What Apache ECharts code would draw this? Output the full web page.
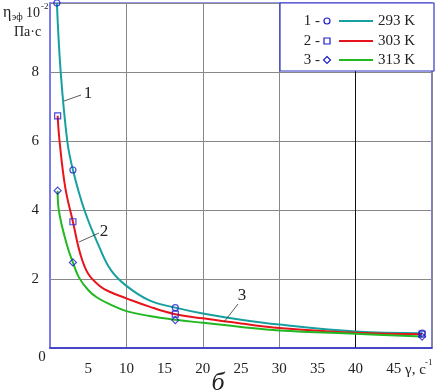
<!DOCTYPE html>
<html>
<head>
<meta charset="utf-8">
<script src="https://cdn.jsdelivr.net/npm/echarts@6/dist/echarts.min.js"></script>
<style>
  html, body { margin: 0; padding: 0; background: #fff; }
  #chart { width: 435px; height: 392px; }
</style>
</head>
<body>
<div id="chart"></div>
<script>
  // values
  var seriesNames = ['293 K', '303 K', '313 K']
  var curveNums = ['1', '2', '3']
  var xLabels = [5, 10, 15, 20, 25, 30, 35, 40, 45]
  var yLabels = [2, 4, 6, 8]

  var line293 = [[0.9, 10], [1.4, 8], [2.26, 6], [3, 5.16], [4.5, 4], [6.5, 2.9], [8, 2.25], [10, 1.8], [13, 1.38], [16.4, 1.17], [20, 1.0], [25, 0.82], [30, 0.68], [40, 0.48], [48.7, 0.43]]
  var line303 = [[1, 6.73], [1.25, 6.0], [2, 4.65], [3, 3.66], [4, 2.7], [5, 2.15], [6.5, 1.8], [7.8, 1.63], [10, 1.44], [13, 1.2], [16.4, 0.98], [20, 0.86], [25, 0.71], [30, 0.58], [40, 0.44], [48.7, 0.40]]
  var line313 = [[1, 4.56], [1.15, 4.0], [2.2, 3.0], [3, 2.48], [3.8, 2.04], [5, 1.68], [6.1, 1.47], [7.8, 1.27], [10, 1.07], [13, 0.93], [16.4, 0.82], [20, 0.73], [25, 0.61], [30, 0.51], [40, 0.41], [48.7, 0.33]]

  var pts293 = [[0.9, 10], [3, 5.16], [16.4, 1.17], [48.7, 0.43]]
  var pts303 = [[1, 6.73], [3, 3.66], [16.4, 0.98], [48.7, 0.40]]
  var pts313 = [[1, 4.56], [3, 2.48], [16.4, 0.81], [48.7, 0.33]]

  var colors = ['#16a0a0', '#e8141c', '#22b822']
  var symbols = ['circle', 'rect', 'diamond']
  var markColor = '#1c1ccc'
  var font = '"Liberation Serif", "DejaVu Serif", serif'

  var lines = [line293, line303, line313]
  var points = [pts293, pts303, pts313]

  var chart = echarts.init(document.getElementById('chart'))

  var series = []
  for (var i = 0; i < 3; i++) {
    series.push({
      name: seriesNames[i],
      type: 'line',
      data: lines[i],
      smooth: 0.4,
      showSymbol: false,
      silent: true,
      z: 3,
      lineStyle: { color: colors[i], width: 2 }
    })
  }
  for (var j = 0; j < 3; j++) {
    series.push({
      type: 'scatter',
      data: points[j],
      symbol: symbols[j],
      symbolSize: j === 2 ? 7 : 6,
      z: 5,
      itemStyle: { color: 'rgba(255,255,255,0)', borderColor: markColor, borderWidth: 1.2 }
    })
  }

  // legend drawn by hand: "1 - o ---- 293 K"
  var legendEls = [{
    type: 'rect',
    shape: { x: 280, y: 3, width: 154, height: 68 },
    style: { fill: '#fff', stroke: '#3535c8', lineWidth: 1.2 },
    z: 20
  }]
  var rowsY = [21, 41, 60]
  for (var k = 0; k < 3; k++) {
    var yy = rowsY[k]
    legendEls.push({
      type: 'text', x: 320, y: yy, z: 21,
      style: { text: curveNums[k] + ' -', font: '15px ' + font, fill: '#222', align: 'right', verticalAlign: 'middle' }
    })
    if (k === 0) {
      legendEls.push({ type: 'circle', z: 21, shape: { cx: 327, cy: yy, r: 3 }, style: { fill: '#fff', stroke: markColor, lineWidth: 1.2 } })
    } else if (k === 1) {
      legendEls.push({ type: 'rect', z: 21, shape: { x: 324, y: yy - 3, width: 6, height: 6 }, style: { fill: '#fff', stroke: markColor, lineWidth: 1.2 } })
    } else {
      legendEls.push({ type: 'polygon', z: 21, shape: { points: [[327, yy - 3.5], [330.5, yy], [327, yy + 3.5], [323.5, yy]] }, style: { fill: '#fff', stroke: markColor, lineWidth: 1.2 } })
    }
    legendEls.push({ type: 'line', z: 21, shape: { x1: 339, y1: yy, x2: 373, y2: yy }, style: { stroke: colors[k], lineWidth: 2 } })
    legendEls.push({
      type: 'text', x: 378, y: yy, z: 21,
      style: { text: seriesNames[k], font: '15px ' + font, fill: '#222', verticalAlign: 'middle' }
    })
  }

  // curve number callouts
  var callouts = [
    { from: [64, 101], to: [81, 95], at: [88, 94] },
    { from: [79, 242], to: [99, 233], at: [104, 232] },
    { from: [224, 322], to: [238, 304], at: [242, 296] }
  ]
  var calloutEls = []
  callouts.forEach(function (c, n) {
    calloutEls.push({ type: 'line', z: 10, shape: { x1: c.from[0], y1: c.from[1], x2: c.to[0], y2: c.to[1] }, style: { stroke: '#333', lineWidth: 0.8 } })
    calloutEls.push({
      type: 'text', z: 10, x: c.at[0], y: c.at[1],
      style: { text: curveNums[n], font: '17px ' + font, fill: '#222', align: 'center', verticalAlign: 'middle' }
    })
  })

  var titleEls = [
    { type: 'text', x: 3, y: 5, style: { text: 'η', font: '16px ' + font, fill: '#222' } },
    { type: 'text', x: 12, y: 12, style: { text: 'эф', font: '10px ' + font, fill: '#222' } },
    { type: 'text', x: 26, y: 6, style: { text: '10', font: '14px ' + font, fill: '#222' } },
    { type: 'text', x: 41, y: 2, style: { text: '-2', font: '9px ' + font, fill: '#222' } },
    { type: 'text', x: 14, y: 25, style: { text: 'Па·с', font: '14px ' + font, fill: '#222' } },
    { type: 'text', x: 42, y: 357, style: { text: '0', font: '15px ' + font, fill: '#222', align: 'center', verticalAlign: 'middle' } },
    { type: 'text', x: 405, y: 370, style: { text: 'γ, с', font: '15px ' + font, fill: '#222', verticalAlign: 'middle' } },
    { type: 'text', x: 425, y: 363, style: { text: '-1', font: '9px ' + font, fill: '#222', verticalAlign: 'middle' } },
    { type: 'text', x: 218, y: 383, style: { text: 'б', font: 'italic 26px ' + font, fill: '#222', align: 'center', verticalAlign: 'middle' } }
  ]

  chart.setOption({
    animation: false,
    grid: {
      left: 50, top: 3, right: 1, bottom: 44,
      show: true, borderColor: '#2a2acc', borderWidth: 1.2
    },
    xAxis: [{
      type: 'value', min: 0, max: 50, interval: 5,
      axisLine: { show: true, lineStyle: { color: '#3030d0', width: 1.5 } },
      axisTick: { show: false },
      splitLine: { show: false },
      axisLabel: {
        margin: 14, color: '#222', fontSize: 15, fontFamily: font,
        formatter: function (v) { return xLabels.indexOf(v) >= 0 ? String(v) : '' }
      }
    }, {
      type: 'value', min: 0, max: 50, interval: 10, position: 'bottom',
      axisLine: { show: false }, axisTick: { show: false }, axisLabel: { show: false },
      splitLine: { show: true, lineStyle: { color: ['#888', '#888', '#888', '#888', '#111', '#888'], width: 1 } }
    }],
    yAxis: {
      type: 'value', min: 0, max: 10, interval: 2,
      axisLine: { show: true, lineStyle: { color: '#7a7aee', width: 2 } },
      axisTick: { show: false },
      splitLine: { show: true, lineStyle: { color: '#888', width: 1 } },
      axisLabel: {
        margin: 11, color: '#222', fontSize: 15, fontFamily: font,
        formatter: function (v) { return yLabels.indexOf(v) >= 0 ? String(v) : '' }
      }
    },
    series: series,
    graphic: legendEls.concat(calloutEls, titleEls)
  })
</script>
</body>
</html>
